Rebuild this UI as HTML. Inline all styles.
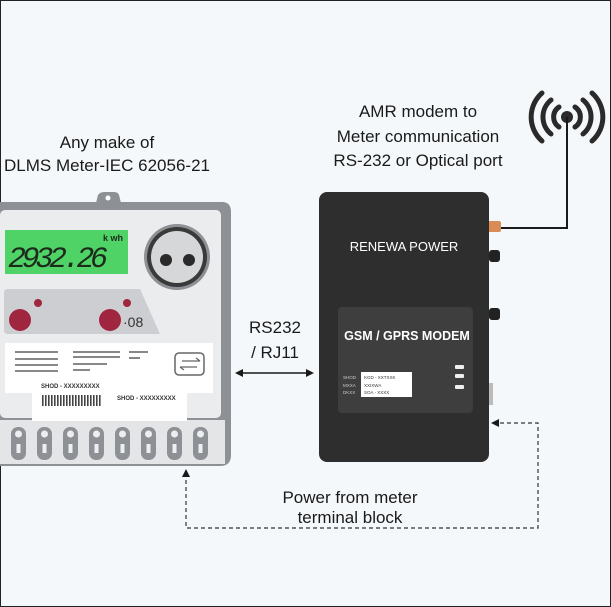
<!DOCTYPE html>
<html><head><style>
html,body{margin:0;padding:0;background:#fff}
svg{display:block}
text{font-family:"Liberation Sans",sans-serif}
</style></head><body>
<svg width="611" height="607" viewBox="0 0 611 607" xmlns="http://www.w3.org/2000/svg">
<rect x="0.5" y="0.5" width="610" height="606" fill="#f5f8fa" stroke="#222" stroke-width="1"/>
<!-- top texts -->
<g font-size="17" fill="#1a1a1a" text-anchor="middle">
<text x="107" y="148">Any make of</text>
<text x="107" y="171">DLMS Meter-IEC 62056-21</text>
<text x="418" y="117">AMR modem to</text>
<text x="418" y="142">Meter communication</text>
<text x="418" y="166">RS-232 or Optical port</text>
<text x="275" y="333">RS232</text>
<text x="275" y="358">/ RJ11</text>
<text x="350" y="503">Power from meter</text>
<text x="350" y="523">terminal block</text>
</g>
<!-- meter -->
<path d="M96 203 L98 195 Q100 192 104 192 L114 192 Q118 192 119 195 L121 203 Z" fill="#8d9196"/>
<circle cx="108" cy="198" r="2.5" fill="#fff"/>
<path d="M0 202 L222 202 Q231 202 231 212 L231 455 Q231 466 220 466 L0 466 Z" fill="#8d9196"/>
<rect x="0" y="210" width="221" height="208" rx="5" fill="#ebecee"/>
<rect x="0" y="420" width="225" height="44" fill="#e4e5e7"/>
<rect x="5" y="230" width="123" height="44" fill="#4fd366"/>
<text x="8" y="267" font-size="30" font-style="italic" fill="#1d2b1d" textLength="100" style="font-family:'Liberation Mono',monospace">2932.26</text>
<text x="103" y="241" font-size="9" font-weight="bold" fill="#1d2b1d">k wh</text>
<circle cx="177" cy="257" r="33" fill="#8d9196"/>
<circle cx="177" cy="257" r="30" fill="#3a3a3a"/>
<circle cx="177" cy="257" r="26" fill="#d6d7d9"/>
<circle cx="166" cy="260" r="6" fill="#2a2a2a"/>
<circle cx="189" cy="260" r="6" fill="#2a2a2a"/>
<path d="M8 289 L140 289 L160 334 L8 334 Q4 334 4 330 L4 293 Q4 289 8 289 Z" fill="#cdced1"/>
<circle cx="20" cy="320" r="11" fill="#a02640"/>
<circle cx="110" cy="320" r="11" fill="#a02640"/>
<circle cx="38" cy="303" r="4" fill="#a02640"/>
<circle cx="127" cy="303" r="4" fill="#a02640"/>
<text x="123" y="327" font-size="14" fill="#333">·08</text>
<rect x="5" y="343" width="208" height="50" fill="#fff"/>
<rect x="32" y="393" width="155" height="28" fill="#fff"/>
<g stroke="#777" stroke-width="1.8">
<line x1="15" y1="352" x2="58" y2="352"/><line x1="15" y1="359" x2="58" y2="359"/><line x1="15" y1="365" x2="58" y2="365"/><line x1="15" y1="371" x2="58" y2="371"/>
<line x1="73" y1="352" x2="120" y2="352"/><line x1="73" y1="357" x2="120" y2="357"/><line x1="73" y1="364" x2="107" y2="364"/><line x1="73" y1="370" x2="90" y2="370"/>
<line x1="129" y1="352" x2="148" y2="352"/><line x1="129" y1="358" x2="140" y2="358"/>
</g>
<rect x="175" y="353" width="29" height="22" rx="4" fill="none" stroke="#666" stroke-width="1.5"/>
<path d="M182 361 L200 361 M196 358 L200 361 M197 367 L180 367 M184 370 L180 367" stroke="#666" stroke-width="1.3" fill="none"/>
<text x="41" y="388" font-size="6" fill="#333" font-weight="bold">SHOD - XXXXXXXXX</text>
<rect x="42" y="395" width="60" height="11" fill="none" stroke="#555" stroke-width="0" />
<g fill="#444"><rect x="42" y="395" width="60" height="11" fill="url(#bc)"/></g>
<defs><pattern id="bc" width="3" height="11" patternUnits="userSpaceOnUse"><rect width="1.6" height="11" fill="#444"/></pattern></defs>
<text x="117" y="400" font-size="6" fill="#333" font-weight="bold">SHOD - XXXXXXXXX</text>
<g fill="#8d9196">
<rect x="11" y="427" width="15" height="33" rx="7"/><rect x="37" y="427" width="15" height="33" rx="7"/><rect x="63" y="427" width="15" height="33" rx="7"/><rect x="89" y="427" width="15" height="33" rx="7"/><rect x="115" y="427" width="15" height="33" rx="7"/><rect x="141" y="427" width="15" height="33" rx="7"/><rect x="167" y="427" width="15" height="33" rx="7"/><rect x="193" y="427" width="15" height="33" rx="7"/>
</g>
<g fill="#eee">
<circle cx="18.5" cy="434" r="3.5"/><circle cx="44.5" cy="434" r="3.5"/><circle cx="70.5" cy="434" r="3.5"/><circle cx="96.5" cy="434" r="3.5"/><circle cx="122.5" cy="434" r="3.5"/><circle cx="148.5" cy="434" r="3.5"/><circle cx="174.5" cy="434" r="3.5"/><circle cx="200.5" cy="434" r="3.5"/>
<rect x="16.5" y="444" width="4" height="9"/><rect x="42.5" y="444" width="4" height="9"/><rect x="68.5" y="444" width="4" height="9"/><rect x="94.5" y="444" width="4" height="9"/><rect x="120.5" y="444" width="4" height="9"/><rect x="146.5" y="444" width="4" height="9"/><rect x="172.5" y="444" width="4" height="9"/><rect x="198.5" y="444" width="4" height="9"/>
</g>
<!-- antenna -->
<g fill="none" stroke="#2a2a2a" stroke-width="5" stroke-linecap="round">
<path d="M559 107 A12 12 0 0 0 559 127"/><path d="M575 107 A12 12 0 0 1 575 127"/>
<path d="M551 100 A22 22 0 0 0 551 134"/><path d="M583 100 A22 22 0 0 1 583 134"/>
<path d="M542 93 A32 32 0 0 0 542 141"/><path d="M592 93 A32 32 0 0 1 592 141"/>
</g>
<circle cx="567" cy="117" r="6" fill="#2a2a2a"/>
<path d="M567 117 L567 228 L498 228" fill="none" stroke="#1a1a1a" stroke-width="2"/>
<!-- modem -->
<rect x="489" y="250" width="11" height="12" rx="3" fill="#222"/>
<rect x="489" y="308" width="11" height="12" rx="3" fill="#222"/>
<rect x="487" y="221" width="14" height="11" rx="2" fill="#d98c55"/>
<rect x="487" y="383" width="6" height="22" fill="#bbb"/>
<rect x="319" y="192" width="170" height="270" rx="8" fill="#2e2e2e"/>
<text x="404" y="251" font-size="13" fill="#fff" text-anchor="middle">RENEWA POWER</text>
<rect x="338" y="307" width="135" height="106" rx="4" fill="#3e3e3f"/>
<text x="407" y="340" font-size="12.5" font-weight="bold" fill="#fff" text-anchor="middle">GSM / GPRS MODEM</text>
<rect x="361" y="372" width="51" height="25" fill="#fff"/>
<g font-size="4.5" fill="#ccc"><text x="343" y="379">SHOD</text><text x="343" y="387">MXXA</text><text x="343" y="394">DKXX</text></g>
<g font-size="4.5" fill="#333"><text x="364" y="379">KGD - XXTXXK</text><text x="364" y="387">XXIXWA</text><text x="364" y="394">SOA - XXXX</text></g>
<g fill="#eee"><rect x="455" y="365" width="9" height="4" rx="1"/><rect x="455" y="374" width="9" height="4" rx="1"/><rect x="455" y="385" width="9" height="4" rx="1"/></g>
<!-- RS232 arrow -->
<line x1="240" y1="373" x2="309" y2="373" stroke="#1a1a1a" stroke-width="1.5"/>
<path d="M235 373 L243 369 L243 377 Z M314 373 L306 369 L306 377 Z" fill="#1a1a1a"/>
<!-- dashed power line -->
<path d="M500 423 L538 423 L538 528 L186 528 L186 477" fill="none" stroke="#333" stroke-width="1.2" stroke-dasharray="4 3"/>
<path d="M491 423 L499 419 L499 427 Z M186 469 L182 477 L190 477 Z" fill="#1a1a1a"/>
</svg>
</body></html>
